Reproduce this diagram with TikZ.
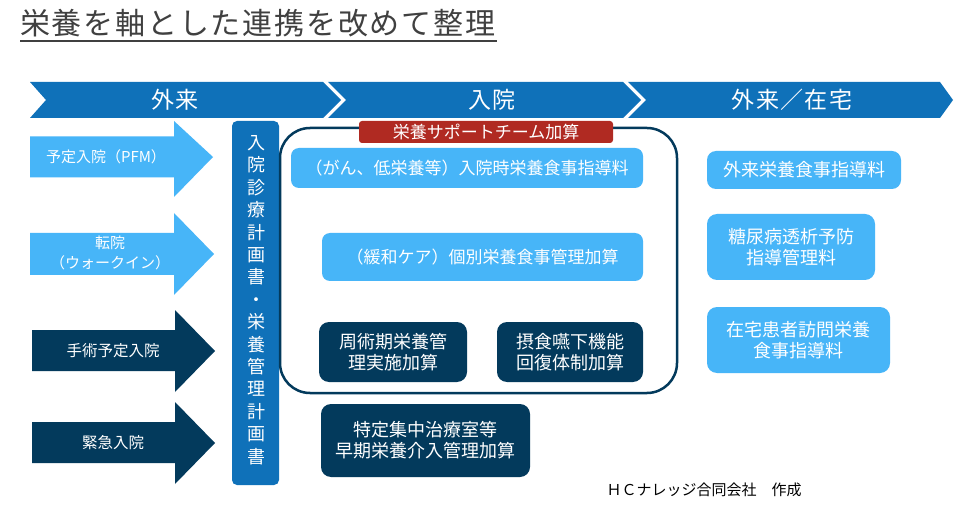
\documentclass[tikz,border=0pt]{standalone}
\usepackage{fontspec}
\setmainfont{Noto Sans CJK JP}
\newfontfamily\spacedfont[LetterSpace=6]{Noto Sans CJK JP}
\usetikzlibrary{calc}
\definecolor{bandblue}{RGB}{15,113,185}
\definecolor{lightblue}{RGB}{71,181,248}
\definecolor{navy}{RGB}{3,58,92}
\definecolor{teamred}{RGB}{176,42,34}
\definecolor{titlegray}{RGB}{64,64,64}
\newcommand{\fs}[2]{\fontsize{#1}{#2}\selectfont}
\begin{document}
\begin{tikzpicture}[x=1pt,y=-1pt,
  lbox/.style={fill=lightblue, rounded corners=8pt, inner sep=0pt, text=white, align=center, font=\fs{17}{21}},
  dbox/.style={fill=navy, rounded corners=10pt, inner sep=0pt, text=white, align=center, font=\fs{18}{21}},
  bandtext/.style={text=white, inner sep=0pt, font=\spacedfont\fs{23}{26}},
  arrowtext/.style={text=white, inner sep=0pt, align=center, font=\fs{15}{20}}]
\fill[white] (0,0) rectangle (959,513);
\useasboundingbox (0,0) rectangle (959,513);
% title
\node[anchor=base west, inner sep=0pt, text=titlegray, font=\spacedfont\fs{30}{34}] (title) at (20,35) {栄養を軸とした連携を改めて整理};
\coordinate (ulend) at (497,41);
\draw[titlegray, line width=2pt] ($(title.base west)+(0,6)$) -- (ulend);
% chevron band
\fill[bandblue] (30,82) -- (323,82) -- (341,100) -- (323,118) -- (30,118) -- (46,100) -- cycle;
\fill[bandblue] (328,82) -- (623,82) -- (641,100) -- (623,118) -- (328,118) -- (346,100) -- cycle;
\fill[bandblue] (628,82) -- (940,82) -- (953,100) -- (940,118) -- (628,118) -- (646,100) -- cycle;
\node[bandtext] (t1) at (175,100) {外来};
\node[bandtext] (t2) at (492,100) {入院};
\node[bandtext] (t3) at (792,100) {外来／在宅};
% left arrows
\fill[lightblue] (30,136.5) -- (174,136.5) -- (174,121) -- (213,157) -- (174,197) -- (174,177.5) -- (30,177.5) -- cycle;
\fill[lightblue] (30,233) -- (174,233) -- (174,213) -- (214,254) -- (174,295) -- (174,275) -- (30,275) -- cycle;
\fill[navy] (32,330) -- (175,330) -- (175,310) -- (215,351) -- (175,392) -- (175,371) -- (32,371) -- cycle;
\fill[navy] (32,422) -- (175,422) -- (175,402) -- (215,443) -- (175,484) -- (175,463) -- (32,463) -- cycle;
\node[arrowtext] (a1) at (106,157) {予定入院（PFM）};
\node[arrowtext] (a2) at (110,253) {転院\\（ウォークイン）};
\node[arrowtext, font=\fs{15.5}{20}] (a3) at (113,351) {手術予定入院};
\node[arrowtext, font=\fs{15.5}{20}] (a4) at (113,443) {緊急入院};
% vertical bar
\node[fill=bandblue, rounded corners=5pt, minimum width=47pt, minimum height=364pt, inner sep=0pt] (vbar) at (255.5,303) {};
\node[text=white, align=center, inner sep=0pt, font=\fs{18}{22.4}] (vt) at (256,300) {入\\院\\診\\療\\計\\画\\書\\・\\栄\\養\\管\\理\\計\\画\\書};
% nutrition support team frame
\node[draw=navy, line width=2.5pt, rounded corners=30pt, minimum width=397pt, minimum height=265pt, inner sep=0pt] (nst) at (478.5,260.5) {};
\node[fill=teamred, rounded corners=3pt, minimum width=254pt, minimum height=22pt, inner sep=0pt, text=white, font=\fs{17}{20}] (nstlabel) at (486,132) {栄養サポートチーム加算};
% inpatient boxes
\node[lbox, minimum width=352pt, minimum height=40pt] (b1) at (467,168) {（がん、低栄養等）入院時栄養食事指導料};
\node[lbox, minimum width=321pt, minimum height=48pt] (b2) at (482.5,257) {（緩和ケア）個別栄養食事管理加算};
\node[dbox, minimum width=148pt, minimum height=60pt] (b3) at (393,352) {周術期栄養管\\理実施加算};
\node[dbox, minimum width=146pt, minimum height=60pt] (b4) at (570,352) {摂食嚥下機能\\回復体制加算};
\node[dbox, minimum width=209pt, minimum height=73pt] (b5) at (425.5,440.5) {特定集中治療室等\\早期栄養介入管理加算};
% outpatient / home boxes
\node[lbox, font=\fs{18}{21}, rounded corners=9pt, minimum width=194pt, minimum height=38pt] (r1) at (804,170) {外来栄養食事指導料};
\node[lbox, font=\fs{18}{21}, rounded corners=10pt, minimum width=168pt, minimum height=66pt] (r2) at (791,247) {糖尿病透析予防\\指導管理料};
\node[lbox, font=\fs{18}{21}, rounded corners=10pt, minimum width=183pt, minimum height=66pt] (r3) at (798.5,340) {在宅患者訪問栄養\\食事指導料};
% credit
\node[inner sep=0pt, font=\fs{15}{18}, text=black] (credit) at (704,490) {ＨＣナレッジ合同会社　作成};
\end{tikzpicture}
\end{document}
